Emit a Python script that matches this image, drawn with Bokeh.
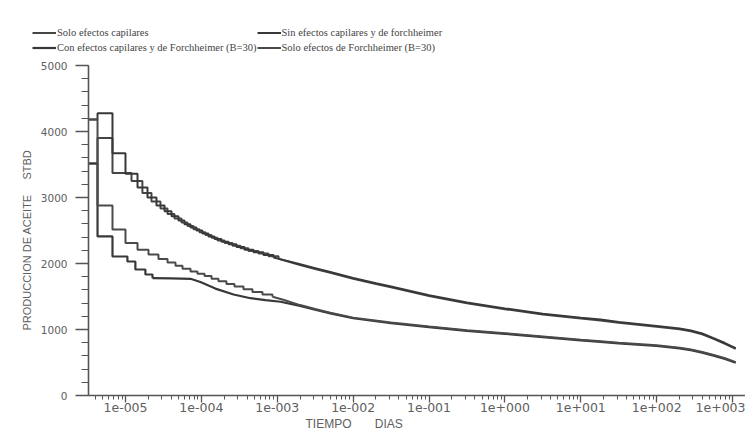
from bokeh.plotting import figure
from bokeh.layouts import column
from bokeh.models import FixedTicker, Legend, LegendItem, Title, Range1d
from bokeh.embed import file_html
from bokeh.resources import INLINE

# ---------------- data ----------------
# Sin efectos capilares y de forchheimer (early step part + later smooth part)
a_step_t = [3.26e-6, 4.28e-6, 6.74e-6, 1.0e-5, 1.44e-5, 1.95e-5, 2.56e-5, 3.27e-5, 4.04e-5, 4.99e-5,
            5.99e-5, 7.19e-5, 8.62e-5, 1.03e-4, 1.24e-4, 1.49e-4, 1.84e-4, 2.28e-4, 2.90e-4, 3.70e-4,
            4.86e-4, 6.58e-4, 8.91e-4]
a_step_v = [4180, 4277, 3670, 3360, 3150, 3000, 2880, 2790, 2715, 2650,
            2595, 2545, 2500, 2455, 2410, 2370, 2330, 2290, 2250, 2210,
            2170, 2130, 2090]
a_line_t = [8.91e-4, 1.2e-3, 2.0e-3, 3.16e-3, 5.0e-3, 1.0e-2, 2.0e-2, 3.16e-2, 1.0e-1, 3.16e-1,
            1.0, 3.16, 10.0, 18.2, 31.6, 100.0, 200.0, 282.0, 398.0, 562.0, 794.0, 1100.0]
a_line_v = [2090, 2055, 1990, 1930, 1870, 1780, 1700, 1650, 1520, 1410,
            1320, 1240, 1180, 1150, 1115, 1055, 1015, 985, 940, 870, 795, 717]

# Solo efectos capilares
b_step_t = [3.26e-6, 4.28e-6, 6.74e-6, 1.20e-5, 1.67e-5, 2.20e-5, 2.89e-5, 3.58e-5, 4.42e-5, 5.47e-5,
            6.56e-5, 7.87e-5, 9.44e-5, 1.13e-4, 1.36e-4, 1.63e-4, 2.02e-4, 2.57e-4, 3.27e-4, 4.17e-4,
            5.65e-4, 7.66e-4, 1.04e-3]
b_step_v = [3515, 3900, 3370, 3250, 3070, 2940, 2835, 2750, 2680, 2620,
            2570, 2520, 2475, 2430, 2390, 2350, 2310, 2270, 2230, 2190,
            2150, 2110, 2070]
b_line_t = [1.04e-3, 2.0e-3, 3.16e-3, 5.0e-3, 1.0e-2, 2.0e-2, 3.16e-2, 1.0e-1, 3.16e-1, 1.0,
            3.16, 10.0, 18.2, 31.6, 100.0, 200.0, 282.0, 398.0, 562.0, 794.0, 1100.0]
b_line_v = [2070, 1978, 1918, 1858, 1768, 1688, 1638, 1508, 1398, 1308,
            1228, 1168, 1138, 1103, 1043, 1003, 973, 928, 858, 783, 705]

# Solo efectos de Forchheimer (B=30)
c_step_t = [3.26e-6, 4.28e-6, 6.74e-6, 1.0e-5, 1.44e-5, 2.01e-5, 2.72e-5, 3.58e-5, 4.56e-5, 5.64e-5,
            7.19e-5, 8.88e-5, 1.10e-4, 1.36e-4, 1.68e-4, 2.14e-4, 2.73e-4, 3.59e-4, 4.71e-4, 6.38e-4,
            8.65e-4]
c_step_v = [4180, 2880, 2515, 2310, 2210, 2135, 2070, 2015, 1965, 1920,
            1880, 1845, 1810, 1770, 1730, 1690, 1650, 1610, 1570, 1530,
            1495]
c_line_t = [8.65e-4, 1.2e-3, 2.0e-3, 3.16e-3, 5.0e-3, 1.0e-2, 3.16e-2, 1.0e-1, 3.16e-1, 1.0,
            3.16, 10.0, 18.2, 31.6, 100.0, 200.0, 282.0, 398.0, 562.0, 794.0, 1100.0]
c_line_v = [1495, 1450, 1370, 1310, 1255, 1180, 1105, 1045, 990, 945,
            895, 845, 822, 800, 760, 725, 697, 660, 615, 565, 505]

# Con efectos capilares y de Forchheimer (B=30)
d_step_t = [3.26e-6, 4.28e-6, 6.74e-6, 1.06e-5, 1.35e-5, 1.83e-5, 2.27e-5]
d_step_v = [3515, 2410, 2106, 2030, 1909, 1833, 1777]
d_line_t = [2.27e-5, 4.0e-5, 7.2e-5, 9.7e-5, 1.53e-4, 2.66e-4, 4.44e-4, 7.0e-4, 1.1e-3, 2.0e-3,
            3.16e-3, 5.0e-3, 1.0e-2, 3.16e-2, 1.0e-1, 3.16e-1, 1.0, 3.16, 10.0, 18.2,
            31.6, 100.0, 200.0, 282.0, 398.0, 562.0, 794.0, 1100.0]
d_line_v = [1777, 1775, 1768, 1720, 1620, 1530, 1474, 1445, 1420, 1358,
            1300, 1245, 1170, 1095, 1035, 980, 935, 885, 835, 812,
            790, 750, 715, 687, 650, 605, 555, 495]

series_labels = ["Solo efectos capilares",
                 "Sin efectos capilares y de forchheimer",
                 "Con efectos capilares y de Forchheimer (B=30)",
                 "Solo efectos de Forchheimer (B=30)"]

x_ticks = [1e-5, 1e-4, 1e-3, 1e-2, 1e-1, 1e0, 1e1, 1e2, 1e3]
x_tick_labels = ["1e-005", "1e-004", "1e-003", "1e-002", "1e-001",
                 "1e+000", "1e+001", "1e+002", "1e+003"]
y_ticks = [0, 1000, 2000, 3000, 4000, 5000]

NB = "\u00a0"
x_title = "TIEMPO" + NB * 7 + "DIAS"
y_title = "PRODUCCION DE ACEITE" + NB * 5 + "STBD"

styles = [  # (step_t, step_v, line_t, line_v, width, colour) in legend order
    (b_step_t, b_step_v, b_line_t, b_line_v, 2.0, "#454545"),
    (a_step_t, a_step_v, a_line_t, a_line_v, 2.0, "#383838"),
    (d_step_t, d_step_v, d_line_t, d_line_v, 2.2, "#383838"),
    (c_step_t, c_step_v, c_line_t, c_line_v, 2.0, "#4a4a4a"),
]

# ---------------- legend strip (top) ----------------
leg = figure(width=745, height=57, x_range=Range1d(0, 1), y_range=Range1d(0, 1),
             output_backend="svg", toolbar_location=None,
             x_axis_location=None, y_axis_location=None,
             min_border_left=0, min_border_right=0, min_border_top=0, min_border_bottom=0)
leg.frame_align = False
leg.grid.visible = False
leg.outline_line_color = None
leg_renderers = []
for _, _, _, _, w, c in styles:
    # samples kept outside the visible range: only their legend swatch shows
    leg_renderers.append(leg.line([5, 6], [5, 6], line_color=c, line_width=w))
items = [LegendItem(label=lbl, renderers=[r]) for lbl, r in zip(series_labels, leg_renderers)]
legend = Legend(items=items, location=(32, 2), orientation="horizontal", ncols=2,
                glyph_width=24, glyph_height=15, label_height=15, label_standoff=1,
                spacing=0, padding=0, margin=0,
                label_text_font="Liberation Serif", label_text_font_size="10.5px",
                label_text_color="#444444", border_line_color=None,
                background_fill_alpha=0)
leg.add_layout(legend)

# ---------------- main chart ----------------
p = figure(width=745, height=378, x_axis_type="log",
           x_range=(3.255e-6, 1.48e3), y_range=(0, 5000),
           output_backend="svg", toolbar_location=None,
           min_border_left=88, min_border_top=8, min_border_right=0, min_border_bottom=40)
p.frame_align = False
p.grid.visible = False
p.outline_line_color = None

axis_col = "#555555"
lab_col = "#606060"

x_minor = [m * 10.0 ** e for e in range(-6, 4) for m in range(2, 10)]
p.xaxis.ticker = FixedTicker(ticks=x_ticks, minor_ticks=x_minor)
p.xaxis.major_label_overrides = {t: s for t, s in zip(x_ticks, x_tick_labels)}
p.yaxis.ticker = FixedTicker(ticks=y_ticks, minor_ticks=list(range(0, 5001, 200)))

for ax in (p.xaxis[0], p.yaxis[0]):
    ax.axis_line_color = axis_col
    ax.axis_line_width = 1.6
    ax.major_tick_line_color = axis_col
    ax.minor_tick_line_color = axis_col
    ax.major_tick_line_width = 1.3
    ax.minor_tick_line_width = 1
    ax.major_tick_in = 0
    ax.minor_tick_in = 0
    ax.major_label_text_color = lab_col
    ax.major_label_text_font = "DejaVu Sans"

p.xaxis.major_tick_out = 7
p.xaxis.minor_tick_out = 4
p.xaxis.major_label_standoff = 0
p.xaxis.major_label_text_font_size = "12.5px"
p.yaxis.major_tick_out = 13
p.yaxis.minor_tick_out = 7
p.yaxis.major_label_standoff = 8
p.yaxis.major_label_text_font_size = "10.5px"

for st, sv, lt, lv, w, c in styles:
    p.step(st, sv, mode="after", line_color=c, line_width=w)
    p.line(lt, lv, line_color=c, line_width=w)

p.add_layout(Title(text=x_title, align="left", offset=217, standoff=0,
                   text_font="Liberation Sans", text_font_size="12px",
                   text_font_style="normal", text_color=lab_col), "below")
p.add_layout(Title(text=y_title, align="left", offset=65, standoff=9,
                   text_font="Liberation Sans", text_font_size="11px",
                   text_font_style="normal", text_color=lab_col), "left")

layout = column(leg, p, spacing=0)
open("out.html", "w").write(file_html(layout, INLINE))
